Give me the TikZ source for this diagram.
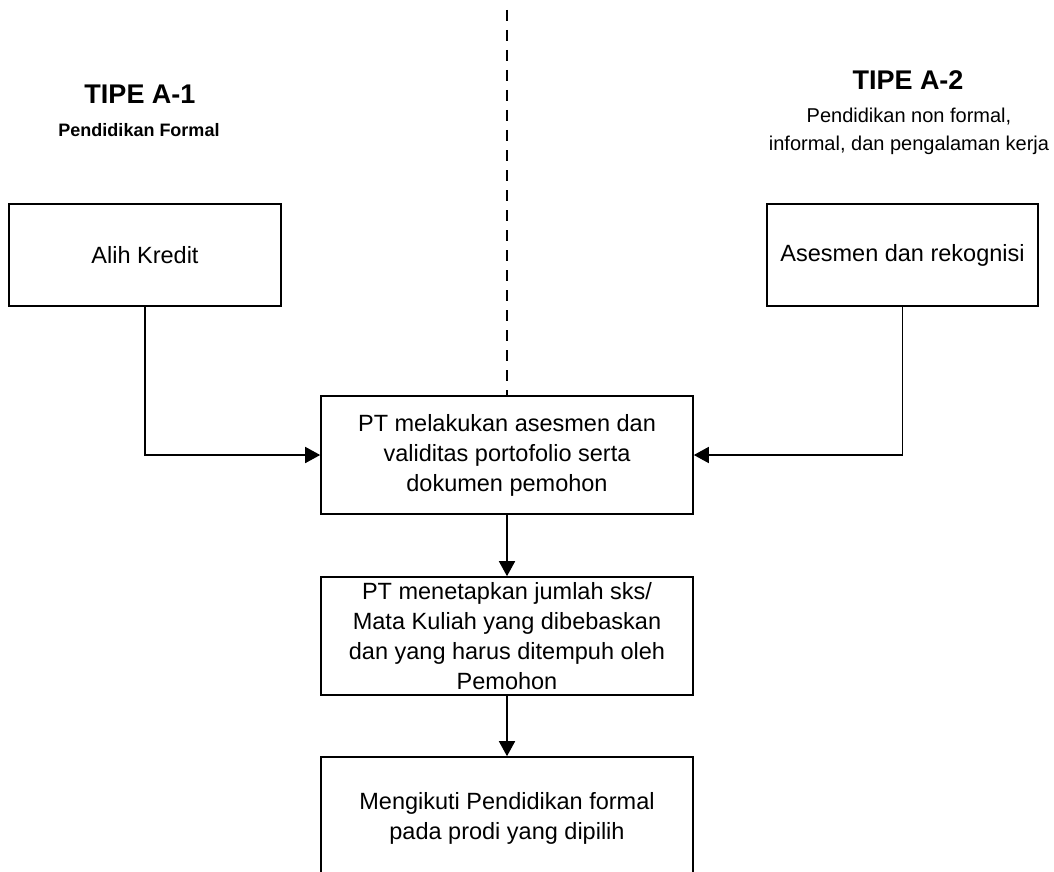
\documentclass[tikz,border=0pt]{standalone}
\usepackage{fontspec}
\setmainfont{Liberation Sans}
\usepackage{tikz}
\usetikzlibrary{arrows.meta, calc}

\begin{document}
\begin{tikzpicture}[x=1pt, y=-1pt,
    box/.style={draw, line width=1.6pt, align=center, inner sep=0pt, font=\fontsize{23.5}{30}\selectfont},
    link/.style={line width=1.6pt, -{Triangle[length=15pt,width=16pt]}},
    head/.style={font=\fontsize{27}{32}\selectfont\bfseries}]
      \useasboundingbox (0,0) rectangle (1054,872);
      \node[head, anchor=base] (tipeA) at (140,103) {TIPE A-1};
      \node[anchor=base, font=\fontsize{18}{22}\selectfont\bfseries] (formal) at (139,136) {Pendidikan Formal};
      \node[head, anchor=base] (tipeB) at (908,90) {TIPE A-2};
      \node[align=center, font=\fontsize{20}{28}\selectfont] (nonformal) at (909,131) {Pendidikan non formal,\\informal, dan pengalaman kerja};
      \node[box, minimum width=272pt, minimum height=102pt] (alih) at (145,255) {Alih Kredit};
      \node[box, minimum width=271pt, minimum height=102pt] (rekognisi) at (902.5,255) {Asesmen dan rekognisi};
      \node[box, minimum width=372pt, minimum height=118pt] (asesmen) at (507,455) {PT melakukan asesmen dan\\validitas portofolio serta\\dokumen pemohon};
      \node[box, minimum width=372pt, minimum height=118pt] (tetapkan) at (507,636) {PT menetapkan jumlah sks/\\Mata Kuliah yang dibebaskan\\dan yang harus ditempuh oleh\\Pemohon};
      \node[box, minimum width=372pt, minimum height=122pt] (ikuti) at (507,818) {Mengikuti Pendidikan formal\\pada prodi yang dipilih};
      \coordinate (garis) at (507,10);
      \draw[line width=1.3pt, dash pattern=on 11pt off 9pt] (garis) -- (asesmen.north); %-
      \draw[link] (alih.south) |- (asesmen.west);
      \draw[link] (rekognisi.south) |- (asesmen.east);
      \draw[link] (asesmen.south) -- (tetapkan.north);
      \draw[link] (tetapkan.south) -- (ikuti.north);
\end{tikzpicture}
\end{document}
